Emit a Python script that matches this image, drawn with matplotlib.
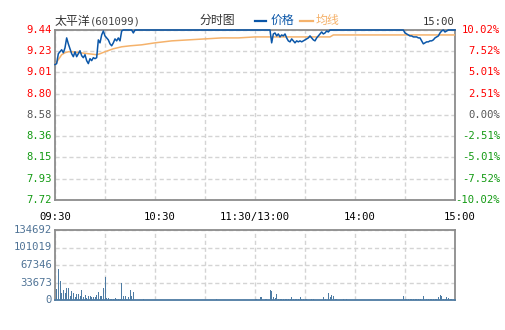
import numpy as np
import matplotlib
matplotlib.use("Agg")
import matplotlib.pyplot as plt
from matplotlib.lines import Line2D
from matplotlib import transforms

# ---- data (minutes since 09:30, lunch break removed) ----
prev_close = 8.58

price_min = [0, 1, 2, 3, 4, 5, 6, 7, 8, 9, 10, 11, 12, 13, 14, 15, 16, 17, 18, 19,
             20, 21, 22, 23, 24, 25, 26, 27, 28, 29, 30, 31, 32, 33, 34, 35, 36, 37, 38, 39,
             40, 41, 46, 47, 48, 129, 130, 131, 132, 133, 134, 135, 136, 137, 138, 139,
             140, 141, 142, 143, 144, 145, 146, 147, 148, 149, 150, 151, 152, 153, 154,
             155, 156, 157, 158, 159, 160, 161, 162, 163, 164, 165, 209, 210, 211, 212,
             213, 214, 215, 216, 217, 218, 219, 220, 221, 222, 223, 224, 225, 226, 227,
             228, 229, 230, 231, 232, 233, 234, 235, 236, 240]
price_val = [9.09, 9.10, 9.20, 9.22, 9.24, 9.21, 9.26, 9.36, 9.30, 9.25, 9.20, 9.17, 9.22,
             9.17, 9.20, 9.23, 9.18, 9.16, 9.19, 9.13, 9.10, 9.15, 9.13, 9.16, 9.15, 9.16,
             9.34, 9.31, 9.39, 9.43, 9.38, 9.36, 9.34, 9.30, 9.28, 9.31, 9.35, 9.33, 9.36,
             9.33, 9.43, 9.44, 9.44, 9.41, 9.44, 9.44, 9.31, 9.40, 9.41, 9.38, 9.40, 9.37,
             9.39, 9.38, 9.40, 9.36, 9.33, 9.32, 9.35, 9.33, 9.31, 9.33, 9.32, 9.33, 9.32,
             9.33, 9.34, 9.35, 9.36, 9.38, 9.36, 9.34, 9.33, 9.36, 9.38, 9.40, 9.42, 9.40,
             9.41, 9.43, 9.42, 9.44, 9.44, 9.41, 9.40, 9.39, 9.38, 9.38, 9.37, 9.37, 9.37,
             9.36, 9.36, 9.33, 9.30, 9.31, 9.32, 9.32, 9.33, 9.33, 9.34, 9.36, 9.37, 9.38,
             9.41, 9.43, 9.44, 9.42, 9.43, 9.44, 9.44]

avg_min = [0, 2, 4, 6, 8, 10, 15, 20, 25, 27, 30, 35, 40, 45, 52, 60, 70, 80, 90, 100,
           110, 120, 165, 167, 200, 240]
avg_val = [9.09, 9.14, 9.19, 9.21, 9.22, 9.22, 9.21, 9.20, 9.19, 9.20, 9.22, 9.25, 9.27,
           9.28, 9.29, 9.31, 9.33, 9.34, 9.35, 9.36, 9.36, 9.37, 9.37, 9.39, 9.39, 9.39]

vol_min = [1, 2, 3, 4, 5, 6, 7, 8, 9, 10, 11, 12, 13, 14, 15, 16, 17, 18, 19, 20, 21, 22,
           23, 24, 25, 26, 27, 28, 29, 30, 31, 32, 33, 34, 35, 36, 37, 38, 39, 40, 41, 42,
           43, 44, 45, 46, 47, 48, 53, 97, 120, 121, 123, 124, 126, 127, 129, 130, 131,
           132, 133, 134, 135, 136, 137, 138, 139, 140, 141, 142, 143, 144, 145, 146, 147,
           148, 149, 150, 151, 154, 155, 161, 162, 164, 165, 166, 167, 168, 169, 173, 175,
           209, 210, 211, 212, 213, 214, 215, 216, 217, 218, 219, 221, 223, 224, 225, 226,
           227, 228, 229, 230, 231, 232, 233, 234, 235, 236, 237, 238]
vol_val = [21000, 59600, 36500, 13000, 19200, 13000, 23700, 23000, 7700, 17300, 13000,
           6400, 11500, 11500, 7700, 19200, 6400, 9600, 3300, 8300, 8300, 5200, 6400, 6400,
           9600, 16000, 8300, 8300, 22500, 44900, 4400, 4400, 1900, 1900, 2500, 4400, 2500,
           1900, 1900, 33300, 8300, 8300, 1900, 6400, 19200, 8300, 16000, 600, 1900, 1900,
           2500, 2500, 5200, 5200, 2500, 2500, 19500, 18000, 5200, 3800, 12200, 2500, 2500,
           2500, 2500, 2500, 2500, 2500, 2500, 5200, 2500, 2500, 2500, 2500, 5200, 2500,
           2500, 2500, 2500, 2500, 2500, 5200, 2500, 12800, 5200, 9000, 7100, 2500, 2500,
           2500, 2500, 7000, 2500, 2500, 2500, 2500, 2500, 2500, 2500, 2500, 2500, 2500,
           7100, 2500, 2500, 2500, 2500, 2500, 2500, 2500, 5200, 9000, 7100, 2500, 2500,
           5200, 3800, 2500, 2500]

price_labels = ["9.44", "9.23", "9.01", "8.80", "8.58", "8.36", "8.15", "7.93", "7.72"]
pct_labels = ["10.02%", "7.52%", "5.01%", "2.51%", "0.00%", "-2.51%", "-5.01%", "-7.52%", "-10.02%"]
vol_ticks = [0, 33673, 67346, 101019, 134692]
time_ticks = [0, 60, 120, 180, 240]
time_labels = ["09:30", "10:30", "11:30/13:00", "14:00", "15:00"]

# ---- style ----
RED = "#ff0000"
GREEN = "#139a13"
GRAY = "#555555"
BLUE = "#0a56a8"
ORANGE = "#f5b26b"
VOLC = "#4d7ba3"
FRAME = "#8c8c8c"
GRID = "#d4d4d4"
MONO = "DejaVu Sans Mono"
CJK = ["Noto Sans CJK SC", "DejaVu Sans"]

W, H = 505, 330
fig = plt.figure(figsize=(W / 100, H / 100), dpi=100)
fig.patch.set_facecolor("white")


def fx(px):
    return px / W


def fy(py):
    return 1 - py / H


ax = fig.add_axes([fx(55), fy(200), 400 / W, 170 / H])
axv = fig.add_axes([fx(55), fy(300), 400 / W, 70 / H])

for a in (ax, axv):
    a.set_xlim(0, 240)
    a.set_xticks(np.arange(0, 241, 30))
    a.tick_params(length=0, labelbottom=False, labelleft=False)
    a.grid(True, color=GRID, linestyle=(0, (3, 2)), linewidth=1)
    a.set_axisbelow(True)
    for s in a.spines.values():
        s.set_color(FRAME)
        s.set_linewidth(1.3)

# main price panel
ymin, ymax = 7.72, 9.44
ax.set_ylim(ymin, ymax)
ytick_pos = np.linspace(ymax, ymin, len(price_labels))
ax.set_yticks(ytick_pos)
ax.plot(avg_min, avg_val, color=ORANGE, lw=1.1, zorder=3)
ax.plot(price_min, price_val, color=BLUE, lw=1.1, zorder=4, clip_on=False)

trans_l = transforms.blended_transform_factory(ax.transAxes, ax.transData)
for i, (p, lab) in enumerate(zip(ytick_pos, price_labels)):
    c = RED if i < 4 else (GRAY if i == 4 else GREEN)
    ax.text(-0.008, p, lab, transform=trans_l, ha="right", va="center",
            fontsize=7.6, family=MONO, color=c)
    ax.text(1.1125, p, pct_labels[i], transform=trans_l, ha="right", va="center",
            fontsize=7.6, family=MONO, color=c)

# time labels under the price panel
trans_b = transforms.blended_transform_factory(ax.transData, ax.transAxes)
shifts = [0, 3, 0, 3, 3]
for t, lab, s in zip(time_ticks, time_labels, shifts):
    ax.text(t + s, -0.098, lab, transform=trans_b, ha="center", va="center",
            fontsize=7.6, family=MONO, color="black")

# volume panel
axv.set_ylim(0, vol_ticks[-1])
axv.set_yticks(vol_ticks)
axv.bar(vol_min, vol_val, width=0.6, color=VOLC, zorder=3)
axv.spines["bottom"].set_color(VOLC)
trans_v = transforms.blended_transform_factory(axv.transAxes, axv.transData)
for v in vol_ticks:
    axv.text(-0.008, v, str(v), transform=trans_v, ha="right", va="center",
             fontsize=7.6, family=MONO, color="#4f7396")

# header texts
fig.text(fx(55), fy(21), "太平洋", family=CJK, fontsize=8.6, color="#333333",
         ha="left", va="center")
fig.text(fx(90), fy(21), "(601099)", family=MONO, fontsize=7.6, color="#444444",
         ha="left", va="center")
fig.text(fx(200), fy(20), "分时图", family=CJK, fontsize=8.6, color="#333333",
         ha="left", va="center")
fig.add_artist(Line2D([fx(255), fx(266)], [fy(20.5), fy(20.5)], color=BLUE, lw=1.6,
                      transform=fig.transFigure))
fig.text(fx(271), fy(20), "价格", family=CJK, fontsize=8.6, color=BLUE,
         ha="left", va="center")
fig.add_artist(Line2D([fx(300), fx(313)], [fy(20.5), fy(20.5)], color=ORANGE, lw=1.6,
                      transform=fig.transFigure))
fig.text(fx(316), fy(20), "均线", family=CJK, fontsize=8.6, color=ORANGE,
         ha="left", va="center")
fig.text(fx(455), fy(22), "15:00", family=MONO, fontsize=7.6, color="#333333",
         ha="right", va="center")

fig.savefig("out.png", dpi=100, facecolor="white")
